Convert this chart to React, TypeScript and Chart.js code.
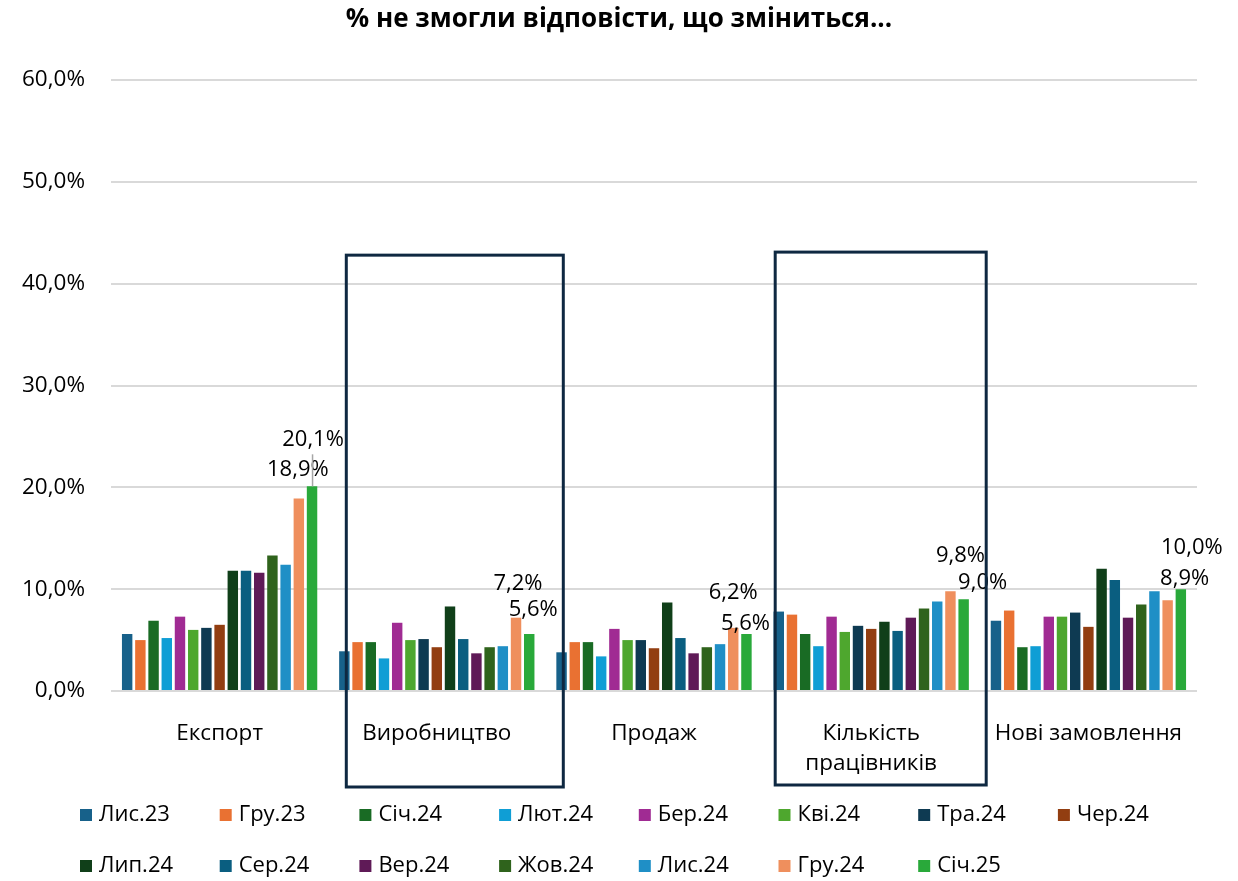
import React, { useEffect, useRef } from 'react';
import { Chart, registerables } from 'chart.js';

Chart.register(...registerables);

const FONT = "'Open Sans', 'Noto Sans', sans-serif";

const TITLE = '% не змогли відповісти, що зміниться...';

const categories: (string | string[])[] = ['Експорт', 'Виробництво', 'Продаж', ['Кількість', 'працівників'], 'Нові замовлення'];

const seriesNames = ['Лис.23', 'Гру.23', 'Січ.24', 'Лют.24', 'Бер.24', 'Кві.24', 'Тра.24', 'Чер.24', 'Лип.24', 'Сер.24', 'Вер.24', 'Жов.24', 'Лис.24', 'Гру.24', 'Січ.25'];

const lys23 = [5.6, 3.9, 3.8, 7.8, 6.9];
const gru23 = [5.0, 4.8, 4.8, 7.5, 7.9];
const sich24 = [6.9, 4.8, 4.8, 5.6, 4.3];
const lyut24 = [5.2, 3.2, 3.4, 4.4, 4.4];
const ber24 = [7.3, 6.7, 6.1, 7.3, 7.3];
const kvi24 = [6.0, 5.0, 5.0, 5.8, 7.3];
const tra24 = [6.2, 5.1, 5.0, 6.4, 7.7];
const cher24 = [6.5, 4.3, 4.2, 6.1, 6.3];
const lyp24 = [11.8, 8.3, 8.7, 6.8, 12.0];
const ser24 = [11.8, 5.1, 5.2, 5.9, 10.9];
const ver24 = [11.6, 3.7, 3.7, 7.2, 7.2];
const zhov24 = [13.3, 4.3, 4.3, 8.1, 8.5];
const lys24 = [12.4, 4.4, 4.6, 8.8, 9.8];
const gru24 = [18.9, 7.2, 6.2, 9.8, 8.9];
const sich25 = [20.1, 5.6, 5.6, 9.0, 10.0];

const seriesValues = [lys23, gru23, sich24, lyut24, ber24, kvi24, tra24, cher24, lyp24, ser24, ver24, zhov24, lys24, gru24, sich25];

const seriesColors = ['#17618a', '#e97132', '#196b24', '#0f9ed5', '#a02b93', '#4ea72e', '#0e3a52', '#923e11', '#103f19', '#0a5e80', '#5f1a57', '#2f631c', '#1f8fc6', '#ef8f5d', '#29a93a'];

const yTicks = [0, 10, 20, 30, 40, 50, 60];

// Data labels shown only for the last two series; offsets (px) from bar top relative to the bar centre
const labelledSeries = [13, 14];
const labelOffsets: Record<number, [number, number][]> = {
  13: [[-1, -29], [2, -34], [0, -35], [10, -35], [17, -22]],
  14: [[1, -47], [4, -24], [-1, -10], [19, -17], [11, -41]],
};
const leaderLines: Record<number, boolean[]> = {
  13: [false, false, false, false, false],
  14: [true, false, false, false, false],
};

// Highlight boxes around categories: [categoryIndex, leftOffset, rightOffset, topValue, bottomBelowAxis]
const highlightBoxes: [number, number, number, number, number][] = [
  [1, -90.5, 126.5, 42.8, 96],
  [3, -96, 115, 43.1, 94],
];

const fmt = (v: number) => v.toFixed(1).replace('.', ',') + '%';

const titlePlugin = {
  id: 'centredTitle',
  afterDraw(chart: any) {
    const ctx = chart.ctx;
    ctx.save();
    ctx.font = `bold 26px ${FONT}`;
    ctx.fillStyle = '#000000';
    ctx.textAlign = 'center';
    ctx.textBaseline = 'middle';
    ctx.fillText(TITLE, chart.width / 2, 20);
    ctx.restore();
  },
};

const valueLabelsPlugin = {
  id: 'valueLabels',
  afterDatasetsDraw(chart: any) {
    const ctx = chart.ctx;
    ctx.save();
    ctx.font = `22px ${FONT}`;
    ctx.fillStyle = '#000000';
    ctx.textAlign = 'center';
    ctx.textBaseline = 'middle';
    labelledSeries.forEach((di) => {
      const meta = chart.getDatasetMeta(di);
      const vals = seriesValues[di];
      meta.data.forEach((bar: any, i: number) => {
        const [dx, dy] = labelOffsets[di][i];
        const lx = bar.x + dx;
        const ly = bar.y + dy;
        if (leaderLines[di][i]) {
          ctx.strokeStyle = '#a6a6a6';
          ctx.lineWidth = 1.5;
          ctx.beginPath();
          ctx.moveTo(bar.x + 0.5, ly + 15);
          ctx.lineTo(bar.x + 0.5, bar.y);
          ctx.stroke();
        }
        ctx.fillText(fmt(vals[i]), lx, ly);
      });
    });
    ctx.restore();
  },
};

const boxesPlugin = {
  id: 'boxes',
  afterDraw(chart: any) {
    const ctx = chart.ctx;
    const xs = chart.scales.x;
    const ys = chart.scales.y;
    ctx.save();
    ctx.strokeStyle = '#0e2841';
    ctx.lineWidth = 3;
    highlightBoxes.forEach(([ci, l, r, topV, below]) => {
      const cx = xs.getPixelForValue(ci);
      const top = ys.getPixelForValue(topV);
      const bottom = chart.chartArea.bottom + below;
      ctx.strokeRect(cx + l, top, r - l, bottom - top);
    });
    ctx.restore();
  },
};

const legendPlugin = {
  id: 'gridLegend',
  afterDraw(chart: any) {
    const ctx = chart.ctx;
    ctx.save();
    ctx.font = `22px ${FONT}`;
    ctx.textAlign = 'left';
    ctx.textBaseline = 'middle';
    const perRow = 8;
    seriesNames.forEach((name, i) => {
      const row = Math.floor(i / perRow);
      const col = i % perRow;
      const x = 80 + col * 139.7;
      const y = 815 + row * 51;
      ctx.fillStyle = seriesColors[i];
      ctx.fillRect(x, y - 6, 12, 12);
      ctx.fillStyle = '#000000';
      ctx.fillText(name, x + 19, y);
    });
    ctx.restore();
  },
};

export default function App() {
  const canvasRef = useRef<HTMLCanvasElement | null>(null);

  useEffect(() => {
    if (!canvasRef.current) return;
    const chart = new Chart(canvasRef.current, {
      type: 'bar',
      data: {
        labels: categories as any,
        datasets: seriesNames.map((name, i) => ({
          label: name,
          data: seriesValues[i],
          backgroundColor: seriesColors[i],
          borderWidth: 0,
          categoryPercentage: 0.912,
          barPercentage: 0.79,
        })),
      },
      options: {
        responsive: false,
        animation: false,
        layout: { padding: { left: 0, right: 41, top: 80, bottom: 90 } },
        plugins: {
          legend: { display: false },
          tooltip: { enabled: false },
          title: { display: false },
        },
        scales: {
          x: {
            grid: { display: false },
            border: { display: false },
            ticks: {
              color: '#000000',
              font: { family: FONT, size: 22.5, lineHeight: 1.32 },
              padding: 20,
              maxRotation: 0,
              autoSkip: false,
            },
            afterFit: (s: any) => { s.height = 100; },
          },
          y: {
            min: 0,
            max: 60,
            afterBuildTicks: (s: any) => { s.ticks = yTicks.map((v) => ({ value: v })); },
            grid: { color: '#d9d9d9', lineWidth: 2, drawTicks: false },
            border: { display: false },
            ticks: {
              color: '#000000',
              font: { family: FONT, size: 22.5 },
              padding: 26,
              callback: (v: any) => fmt(Number(v)),
            },
            afterFit: (s: any) => { s.width = 111; },
          },
        },
      },
      plugins: [valueLabelsPlugin, boxesPlugin, legendPlugin, titlePlugin],
    });
    return () => chart.destroy();
  }, []);

  return (
    <div style={{ position: 'fixed', left: 0, top: 0, width: 1238, height: 881, background: '#ffffff' }}>
      <canvas ref={canvasRef} width={1238} height={881} aria-label={TITLE} style={{ display: 'block' }} />
    </div>
  );
}
